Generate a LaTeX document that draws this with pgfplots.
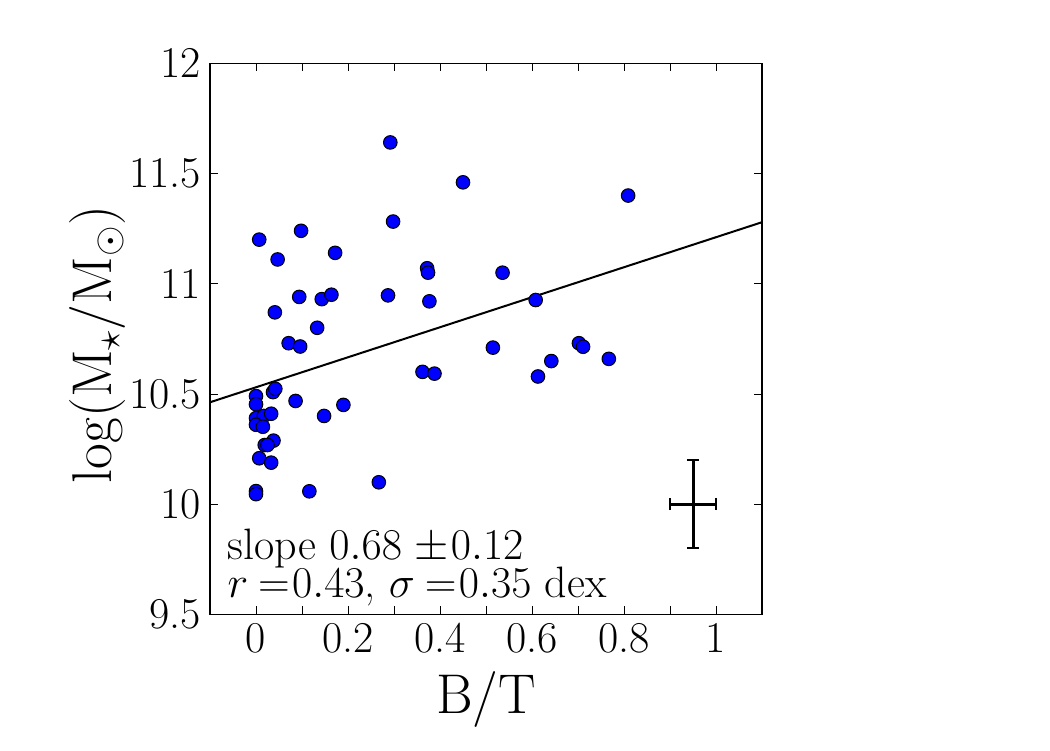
\RequirePackage{fix-cm}
\documentclass[border=0pt]{standalone}
\usepackage{fontspec}
\usepackage{pgfplots}
\pgfplotsset{compat=1.18}
\definecolor{ptblue}{RGB}{0,0,255}
\begin{document}
\begin{tikzpicture}
\begin{axis}[
  scale only axis,
  width=276pt, height=275.5pt,
  xmin=-0.1, xmax=1.1, ymin=9.5, ymax=12,
  xtick={0,0.1,0.2,0.3,0.4,0.5,0.6,0.7,0.8,0.9,1},
  xticklabels={0,,0.2,,0.4,,0.6,,0.8,,1},
  ytick={9.5,10,10.5,11,11.5,12},
  yticklabels={9.5,10,10.5,11,11.5,12},
  tick align=inside,
  major tick length=4pt,
  tick style={black, line width=0.4pt},
  axis line style={line width=0.7pt},
  ticklabel style={font=\fontsize{22}{26}\selectfont},
  xticklabel style={yshift=-1pt},
  yticklabel style={xshift=-1pt},
  label style={font=\fontsize{28}{33}\selectfont},
  xlabel={B/T},
  ylabel={$\log(\mathrm{M}_\star/\mathrm{M}_\odot)$},
  x label style={at={(axis description cs:0.5,-0.154)}, anchor=center},
  y label style={at={(axis description cs:-0.203,0.49)}, anchor=center, rotate=0},
  clip=false,
]
\coordinate (O) at (rel axis cs:0,0);
\addplot[black, line width=1pt] coordinates {(-0.1,10.462) (1.1,11.279)};
\addplot[only marks, mark=*, mark size=3.4pt, mark options={fill=ptblue, draw=black, line width=0.5pt}] coordinates {
(0.292,11.641) (0.450,11.46) (0.298,11.282) (0.007,11.20) (0.098,11.24)
(0.047,11.11) (0.172,11.14) (0.372,11.07) (0.374,11.05) (0.536,11.05)
(0.094,10.94) (0.143,10.93) (0.164,10.95) (0.287,10.947) (0.377,10.92)
(0.041,10.87) (0.133,10.80) (0.071,10.73) (0.096,10.715) (0.515,10.71)
(0.809,11.40) (0.608,10.926) (0.702,10.73) (0.711,10.714) (0.362,10.60)
(0.388,10.592) (0.613,10.579) (0.642,10.649) (0.767,10.659) (0.000,10.49)
(0.037,10.508) (0.042,10.523) (0.086,10.468) (0.000,10.453) (0.190,10.45)
(0.148,10.40) (0.000,10.39) (0.017,10.40) (0.033,10.41) (0.000,10.36)
(0.015,10.351) (0.038,10.288) (0.019,10.268) (0.025,10.268) (0.007,10.208)
(0.033,10.188) (0.000,10.059) (0.000,10.045) (0.116,10.058) (0.267,10.099)
};
\addplot[black, line width=1.5pt, mark=none,
  error bars/.cd, x dir=both, x explicit, y dir=both, y explicit,
  error bar style={line width=1.5pt},
  error mark options={rotate=90, line width=0.7pt, mark size=3pt}]
  coordinates {(0.95,10) +- (0.05,0.2)};
\node[anchor=south west, align=left, inner sep=0pt,
  font={\fontsize{22}{19.25}\selectfont\lineskiplimit=-20pt}]
  at (axis cs:-0.0624,9.534)
  {slope $0.68\mskip5mu{\pm}\mskip1mu0.12$\\
   $r\mskip4mu{=}\mskip1mu0.43$, $\sigma\mskip4mu{=}\mskip1mu0.35$ dex};
\end{axis}
\path (O) ++(-105pt,-67.85pt) rectangle ++(525pt,375pt);
\end{tikzpicture}
\end{document}
